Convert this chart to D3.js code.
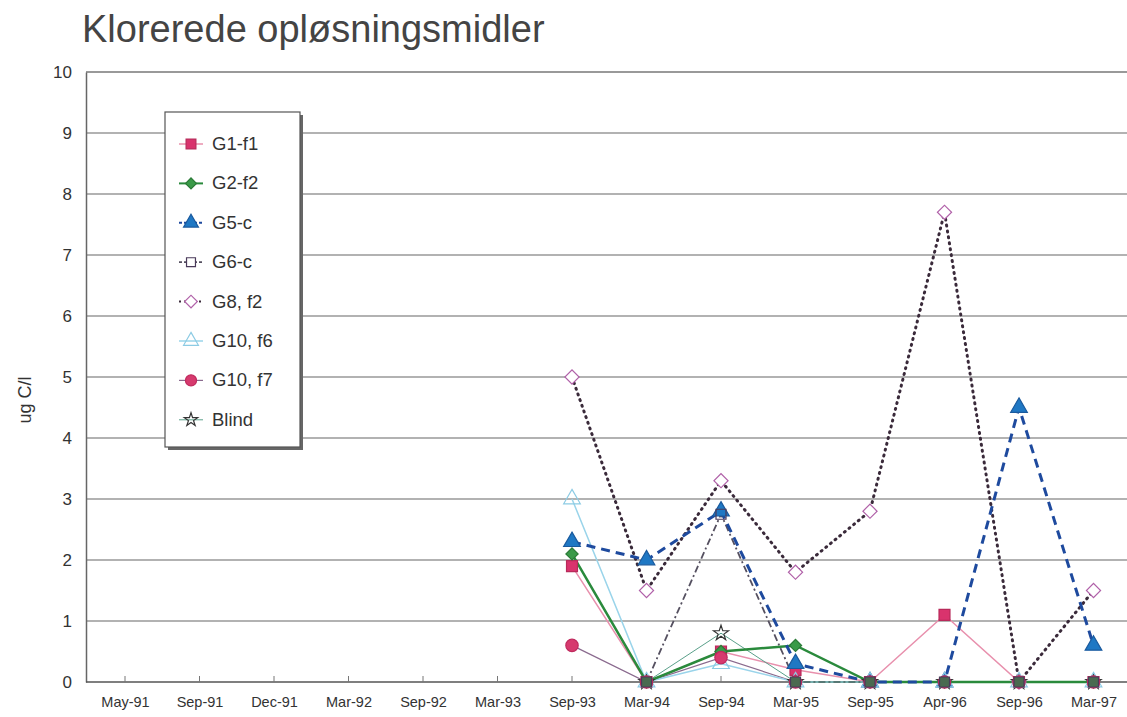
<!DOCTYPE html>
<html lang="en">
<head>
<meta charset="utf-8" />
<title>Klorerede opløsningsmidler</title>
<style>
  body { margin: 0; background: #fff; }
  svg text { font-family: "Liberation Sans", Arial, sans-serif; fill: #333; }
</style>
</head>
<body>
<script src="https://cdn.jsdelivr.net/npm/d3@7/dist/d3.min.js"></script>
<script>
var width = 1127, height = 717;

// categories (x axis)
var dates = ["May-91","Sep-91","Dec-91","Mar-92","Sep-92","Mar-93","Sep-93",
             "Mar-94","Sep-94","Mar-95","Sep-95","Apr-96","Sep-96","Mar-97"];
// values start at Sep-93
var sampled = dates.slice(6);

var g1f1  = [1.9, 0, 0.5, 0.2, 0, 1.1, 0, 0];
var g2f2  = [2.1, 0, 0.5, 0.6, 0, 0, 0, 0];
var g5c   = [2.3, 2.0, 2.8, 0.3, 0, 0, 4.5, 0.6];
var g6c   = [null, 0, 2.75, 0, 0, 0, 0, 0];
var g8f2  = [5.0, 1.5, 3.3, 1.8, 2.8, 7.7, 0, 1.5];
var g10f6 = [3.0, 0, 0.3, 0, 0, 0, 0, 0];
var g10f7 = [0.6, 0, 0.4, 0, 0, 0, 0, 0];
var blind = [null, 0, 0.8, 0, 0, 0, 0, 0];

var yTicks = [0,1,2,3,4,5,6,7,8,9,10];

var series = [
  {name:"G1-f1",   values:g1f1,  line:"#e890ad", lw:1.5, dash:null,      sym:d3.symbolSquare,   rot:0,  size:120, fill:"#d9336d", stroke:"#b82a5a"},
  {name:"G2-f2",   values:g2f2,  line:"#2a8a3c", lw:2.5, dash:null,      sym:d3.symbolSquare,   rot:45, size:75,  fill:"#3a9a48", stroke:"#2a7a36"},
  {name:"G5-c",    values:g5c,   line:"#1e4a9e", lw:3,   dash:"9,6",     sym:d3.symbolTriangle, rot:0,  size:120, fill:"#1f78c4", stroke:"#1a5a9e"},
  {name:"G6-c",    values:g6c,   line:"#555060", lw:1.8, dash:"7,3,2,3", sym:d3.symbolSquare,   rot:0,  size:100, fill:"#4a6a50", stroke:"#4a3a5a"},
  {name:"G8, f2",  values:g8f2,  line:"#3a2a3a", lw:3,   dash:"1,5",     sym:d3.symbolSquare,   rot:45, size:100, fill:"#fff",    stroke:"#b060a8"},
  {name:"G10, f6", values:g10f6, line:"#9ad4ea", lw:1.5, dash:null,      sym:d3.symbolTriangle, rot:0,  size:120, fill:"none",    stroke:"#8ccbe4"},
  {name:"G10, f7", values:g10f7, line:"#8a6a8e", lw:1.2, dash:null,      sym:d3.symbolCircle,   rot:0,  size:120, fill:"#d63a6e", stroke:"#c02a5e"},
  {name:"Blind",   values:blind, line:"#5aa08a", lw:1,   dash:null,      sym:d3.symbolStar,     rot:0,  size:70,  fill:"none",    stroke:"#333"}
];

var svg = d3.select("body").append("svg")
    .attr("width", width)
    .attr("height", height);

var plotLeft = 86, plotTop = 72, plotBottom = 682;
var x = d3.scalePoint()
    .domain(dates)
    .range([plotLeft + 39, plotLeft + 39 + 74.5 * 13]);
var y = d3.scaleLinear()
    .domain([0, 10])
    .range([plotBottom, plotTop]);

// title
svg.append("text")
    .attr("x", 82).attr("y", 42)
    .style("font-size", "38px")
    .style("fill", "#444")
    .text("Klorerede opløsningsmidler");

// gridlines
svg.append("g")
    .selectAll("line")
    .data(yTicks.slice(1))
    .enter().append("line")
    .attr("x1", plotLeft).attr("x2", width)
    .attr("y1", function(d){ return y(d); })
    .attr("y2", function(d){ return y(d); })
    .attr("stroke", function(d){ return d == 10 ? "#777" : "#999"; })
    .attr("stroke-width", 1.3);

// y axis
var yAxis = svg.append("g")
    .attr("transform", "translate(" + plotLeft + ",0)")
    .call(d3.axisLeft(y).tickValues(yTicks).tickSize(0).tickPadding(14));
yAxis.select(".domain").attr("stroke", "#666").attr("stroke-width", 1.5);
yAxis.selectAll("text").style("font-size", "17px").style("fill", "#333");

// x axis
var xAxis = svg.append("g")
    .attr("transform", "translate(0," + plotBottom + ")")
    .call(d3.axisBottom(x).tickSize(0).tickPadding(15));
xAxis.select(".domain").remove();
xAxis.selectAll("text").style("font-size", "14.5px").style("fill", "#333");
svg.append("line")
    .attr("x1", plotLeft).attr("x2", width)
    .attr("y1", plotBottom).attr("y2", plotBottom)
    .attr("stroke", "#555").attr("stroke-width", 1.6);
svg.append("g")
    .selectAll("line")
    .data(dates)
    .enter().append("line")
    .attr("x1", function(d){ return x(d); })
    .attr("x2", function(d){ return x(d); })
    .attr("y1", plotBottom).attr("y2", plotBottom - 6)
    .attr("stroke", "#777");

// y label
svg.append("text")
    .attr("transform", "translate(31,400) rotate(-90)")
    .attr("text-anchor", "middle")
    .style("font-size", "18px")
    .text("ug C/l");

// lines
var line = d3.line()
    .defined(function(d){ return d.v != null; })
    .x(function(d){ return x(d.date); })
    .y(function(d){ return y(d.v); });

function pts(s) {
  return s.values.map(function(v, i){ return {date: sampled[i], v: v}; });
}

var lineOrder = [6, 5, 3, 0, 7, 1, 4, 2];
svg.append("g")
    .selectAll("path")
    .data(lineOrder.map(function(i){ return series[i]; }))
    .enter().append("path")
    .attr("d", function(s){ return line(pts(s)); })
    .attr("fill", "none")
    .attr("stroke", function(s){ return s.line; })
    .attr("stroke-width", function(s){ return s.lw; })
    .attr("stroke-dasharray", function(s){ return s.dash; })
    .attr("stroke-linecap", function(s){ return s.dash == "1,5" ? "round" : "butt"; });

// markers (Blind first so the dark squares sit on top at zero)
var markerOrder = [7, 0, 1, 2, 4, 5, 6, 3];
markerOrder.forEach(function(i){
  var s = series[i];
  svg.append("g")
    .selectAll("path")
    .data(pts(s).filter(function(d){ return d.v != null; }))
    .enter().append("path")
    .attr("d", d3.symbol().type(s.sym).size(s.size))
    .attr("transform", function(d){
      return "translate(" + x(d.date) + "," + y(d.v) + ") rotate(" + s.rot + ")";
    })
    .attr("fill", function(d){ return i == 3 && d.v > 0 ? "none" : s.fill; })
    .attr("stroke", s.stroke)
    .attr("stroke-width", 1.2);
});

// legend
var lg = svg.append("g").attr("transform", "translate(165,112)");
lg.append("rect")
    .attr("x", 3).attr("y", 3)
    .attr("width", 135).attr("height", 335)
    .attr("fill", "#666");
lg.append("rect")
    .attr("width", 135).attr("height", 335)
    .attr("fill", "#fff")
    .attr("stroke", "#555").attr("stroke-width", 1.2);

var item = lg.selectAll(".item")
    .data(series)
    .enter().append("g")
    .attr("class", "item")
    .attr("transform", function(d, i){ return "translate(0," + (32 + i * 39.4) + ")"; });
item.append("line")
    .attr("x1", 14).attr("x2", 38)
    .attr("stroke", function(s){ return s.line; })
    .attr("stroke-width", function(s){ return Math.min(s.lw, 2); })
    .attr("stroke-dasharray", function(s){ return s.dash == "1,5" ? "2,3" : (s.dash ? "3,2" : null); });
item.append("path")
    .attr("d", function(s){ return d3.symbol().type(s.sym).size(s.size * 0.8)(); })
    .attr("transform", function(s){ return "translate(26,0) rotate(" + s.rot + ")"; })
    .attr("fill", function(s){ return s.name == "G6-c" ? "#fff" : s.fill; })
    .attr("stroke", function(s){ return s.stroke; })
    .attr("stroke-width", 1.2);
item.append("text")
    .attr("x", 47).attr("y", 6)
    .style("font-size", "18.5px")
    .text(function(s){ return s.name; });
</script>
</body>
</html>
